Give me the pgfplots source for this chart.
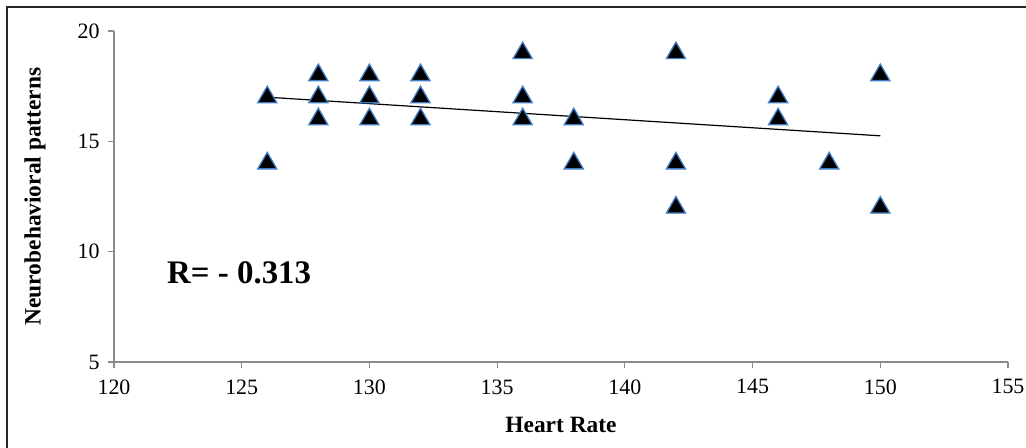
\documentclass[border=0pt]{standalone}
\usepackage{pgfplots}
\pgfplotsset{compat=1.18}
\usepackage{fontspec}
\setmainfont{Liberation Serif}
\definecolor{markedge}{HTML}{3F7CC4}
\definecolor{axisgray}{HTML}{8C8C8C}

\begin{document}
\begin{tikzpicture}
% page extent, measured from the lower-left corner of the plot box
\useasboundingbox (-114bp,-86bp) rectangle (912bp,362bp);
% outer chart border
\draw[line width=2.2bp, black!85] (-107bp,-120bp) -- (-107bp,355bp) -- (960bp,355bp);
\begin{axis}[
  at={(0,0)}, anchor=south west,
  scale only axis,
  width=894bp, height=331bp,
  xmin=120, xmax=155, ymin=5, ymax=20,
  xtick={120,125,...,155},
  ytick={5,10,15,20},
  axis x line*=bottom, axis y line*=left,
  axis line style={axisgray, line width=1.1bp},
  tick style={axisgray, line width=1.1bp},
  tick align=outside,
  major tick length=6bp,
  /pgf/number format/assume math mode=true,
  ticklabel style={font=\fontsize{22}{24}\selectfont},
  xticklabel style={yshift=-8bp},
  yticklabel style={xshift=-5bp},
  xlabel={\textbf{Heart Rate}},
  ylabel={\textbf{Neurobehavioral patterns}},
  label style={font=\fontsize{23.5}{25}\selectfont},
  xlabel style={at={(axis description cs:0.5,-0.19)}, anchor=center},
  ylabel style={at={(axis description cs:-0.0884,0.5)}, anchor=center},
  clip=false,
]
% fitted trend line
\addplot[black, line width=1.2bp] coordinates {(126,17.0) (150,15.25)};
% observations
\addplot[only marks, mark=triangle*, mark size=11bp,
  mark options={fill=black, draw=markedge, line width=1.3bp}]
  table {
    x   y
    126 17
    126 14
    128 18
    128 17
    128 16
    130 18
    130 17
    130 16
    132 18
    132 17
    132 16
    136 19
    136 17
    136 16
    138 16
    138 14
    142 19
    142 14
    142 12
    146 17
    146 16
    148 14
    150 18
    150 12
  };
\node[font=\fontsize{33}{35}\selectfont\bfseries] at (axis cs:124.9,9.05) {R= - 0.313};
\end{axis}
\end{tikzpicture}
\end{document}
